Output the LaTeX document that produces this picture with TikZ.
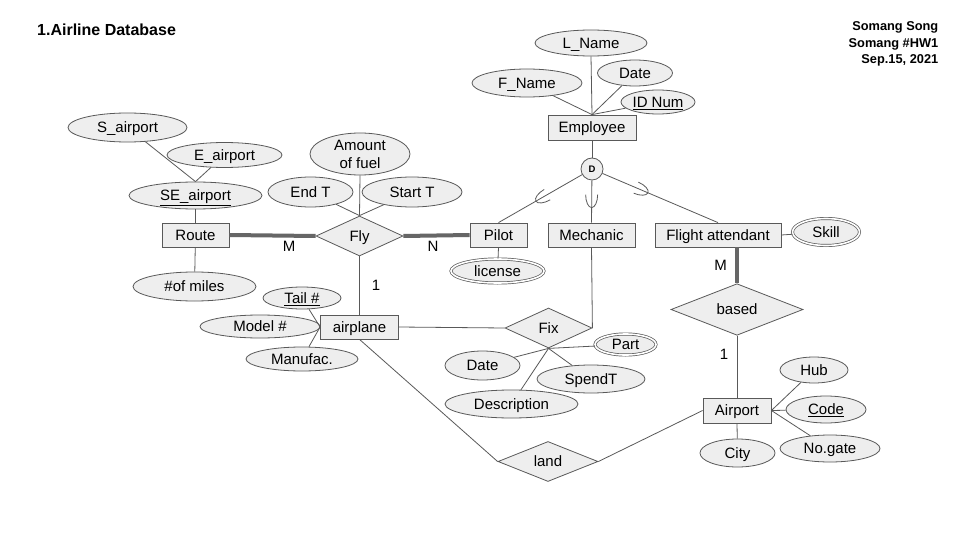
\documentclass[tikz,border=0pt]{standalone}
\usepackage{fontspec}
\setmainfont{Liberation Sans}
\usetikzlibrary{shapes.geometric}
\definecolor{linec}{HTML}{595959}
\definecolor{boxfill}{HTML}{EEEEEE}
\definecolor{heavy}{HTML}{666666}

% subset "cup" on a specialization line: #1 point, #2 direction pointing to the circle
\newcommand\subsetcup[2]{%
  \draw[conn, shift={(#1)}, rotate=#2] (13,6) arc[start angle=90, end angle=270, x radius=13, y radius=6];}

\begin{document}
\begin{tikzpicture}[x=1pt,y=1pt,
  every node/.style={font=\fontsize{15}{17}\selectfont, inner sep=0pt},
  capmid/.style={text height=10.7pt, text depth=0pt},
  ent/.style={draw=linec, fill=boxfill, rectangle, line width=0.8pt, minimum height=24, capmid},
  attrbase/.style={draw=linec, fill=boxfill, ellipse, line width=0.8pt},
  attr/.style={attrbase, capmid},
  mattr/.style={draw=linec, fill=boxfill, ellipse, double=white, double distance=1.6pt, line width=0.7pt, capmid},
  rel/.style={draw=linec, fill=boxfill, diamond, line width=0.8pt, capmid},
  conn/.style={draw=linec, line width=0.8pt},
  heavyconn/.style={draw=heavy, line width=4pt},
]
\fill[white] (0,0) rectangle (960,-540);
\useasboundingbox (0,0) rectangle (960,-540);

% headings
\node[anchor=base west, font=\fontsize{16}{18}\selectfont\bfseries] (title) at (37,-36) {1.Airline Database};
\node[anchor=north east, align=right, font=\fontsize{12.8}{16.5}\selectfont\bfseries] (author) at (938.5,-21.5)
  {Somang Song\\Somang \#HW1\\Sep.15, 2021};

% Employee and its attributes
\node[ent, minimum width=88, minimum height=25] (emp) at (592,-127.5) {Employee};
\node[attr, minimum width=112, minimum height=26] (lname) at (591,-43) {L\_Name};
\node[attr, minimum width=110, minimum height=28] (fname) at (527,-83) {F\_Name};
\node[attr, minimum width=75, minimum height=26] (edate) at (635,-73) {Date};
\node[attr, minimum width=74, minimum height=24] (idnum) at (658,-102) {\underline{ID Num}};
\draw[conn] (lname.south) -- (emp.north);
\draw[conn] (fname) -- (emp.north);
\draw[conn] (edate) -- (emp.north);
\draw[conn] (idnum) -- (emp.north);

% disjoint specialization
\node[circle, draw=linec, fill=boxfill, line width=0.8pt, minimum size=22,
      font=\fontsize{9.5}{10}\selectfont\bfseries] (D) at (592,-169) {D};
\draw[conn] (emp.south) -- (D);

\node[ent, minimum width=57] (pilot) at (498.5,-235) {Pilot};
\node[ent, minimum width=87] (mech) at (591.5,-235) {Mechanic};
\node[ent, minimum width=126] (fa) at (718,-235) {Flight attendant};
\node[mattr, minimum width=67, minimum height=27] (skill) at (826,-232) {Skill};
\node[mattr, minimum width=93, minimum height=24] (license) at (497.5,-271) {license};

\draw[conn] (D) -- (pilot.north);
\draw[conn] (D) -- (mech.north);
\draw[conn] (D) -- (fa.north);
\path (D.center) -- (pilot.north) coordinate[pos=0.6] (cupP);
\path (D.center) -- (mech.north) coordinate[pos=0.72] (cupM);
\path (D.center) -- (fa.north) coordinate[pos=0.444] (cupF);
\subsetcup{cupP}{30}
\subsetcup{cupM}{90}
\subsetcup{cupF}{156.8}
\draw[conn] (fa.east) -- (skill);
\draw[conn] (pilot.south) -- (license);

% Route
\node[ent, minimum width=67] (route) at (195.5,-235) {Route};
\node[attr, minimum width=133, minimum height=27] (seair) at (195.5,-195.5) {\underline{SE\_airport}};
\node[attr, minimum width=119, minimum height=29] (sair) at (127.5,-127.5) {S\_airport};
\node[attr, minimum width=115, minimum height=25] (eair) at (224.5,-155) {E\_airport};
\node[attr, minimum width=123, minimum height=29] (miles) at (194.5,-286.5) {\#of miles};
\draw[conn] (sair) -- (seair.north);
\draw[conn] (eair) -- (seair.north);
\draw[conn] (seair) -- (route);
\draw[conn] (route) -- (miles);

% Fly
\node[rel, minimum width=87, minimum height=40] (fly) at (359.5,-236) {Fly};
\node[attrbase, minimum width=100, minimum height=42, align=center, font=\fontsize{15}{18}\selectfont] (fuel) at (360,-154) {Amount\\of fuel};
\node[attr, minimum width=85, minimum height=30] (endt) at (310.5,-192) {End T};
\node[attr, minimum width=100, minimum height=30] (startt) at (412,-192) {Start T};
\draw[conn] (fuel.south) -- (fly.north);
\draw[conn] (endt) -- (fly.north);
\draw[conn] (startt) -- (fly.north);
\draw[heavyconn] (route.east) -- (fly.west);
\draw[heavyconn] (fly.east) -- (pilot.west);
\node (cM1) at (289,-246.5) {M};
\node (cN1) at (433,-246.5) {N};

% airplane
\node[ent, minimum width=78] (plane) at (359.5,-327) {airplane};
\node[attr, minimum width=78, minimum height=22] (tail) at (302,-298) {\underline{Tail \#}};
\node[attr, minimum width=120, minimum height=23] (model) at (260,-326.5) {Model \#};
\node[attr, minimum width=112, minimum height=24] (manuf) at (302,-359) {Manufac.};
\draw[conn] (tail) -- (plane.west);
\draw[conn] (model) -- (plane.west);
\draw[conn] (manuf) -- (plane.west);
\draw[conn] (fly.south) -- (plane.north);
\node (c1a) at (376,-285) {1};

% Fix
\node[rel, minimum width=87, minimum height=40] (fix) at (548.5,-328) {Fix};
\node[mattr, minimum width=61, minimum height=21] (part) at (625.5,-344.5) {Part};
\node[attr, minimum width=75, minimum height=29] (fdate) at (482.5,-365.5) {Date};
\node[attr, minimum width=108, minimum height=28] (spend) at (591,-379) {SpendT};
\node[attr, minimum width=133, minimum height=28] (desc) at (511.5,-404) {Description};
\draw[conn] (plane.east) -- (fix.west);
\draw[conn] (mech.south) -- (fix.east);
\draw[conn] (fix.south) -- (part);
\draw[conn] (fix.south) -- (fdate);
\draw[conn] (fix.south) -- (spend);
\draw[conn] (fix.south) -- (desc);

% based / Airport
\node[rel, minimum width=132, minimum height=45] (based) at (737,-309.5) {based};
\node[ent, minimum width=68, minimum height=25] (airport) at (737,-410.5) {Airport};
\draw[heavyconn] (based.north) -- (based.north |- fa.south);
\draw[conn] (based.south) -- (airport.north);
\node (cM2) at (720.5,-265) {M};
\node (c1b) at (724,-354.5) {1};
\node[attr, minimum width=68, minimum height=26] (hub) at (814,-370) {Hub};
\node[attr, minimum width=80, minimum height=27] (code) at (826,-409.5) {\underline{Code}};
\node[attr, minimum width=100, minimum height=27] (gate) at (830,-448.5) {No.gate};
\node[attr, minimum width=75, minimum height=28] (city) at (737.5,-453) {City};
\draw[conn] (airport.east) -- (hub);
\draw[conn] (airport.east) -- (code);
\draw[conn] (airport.east) -- (gate);
\draw[conn] (airport.south) -- (city);

% land
\node[rel, minimum width=100, minimum height=40] (land) at (548,-461.5) {land};
\draw[conn] (plane.south) -- (land.west);
\draw[conn] (land.east) -- (airport.west);
\end{tikzpicture}
\end{document}
